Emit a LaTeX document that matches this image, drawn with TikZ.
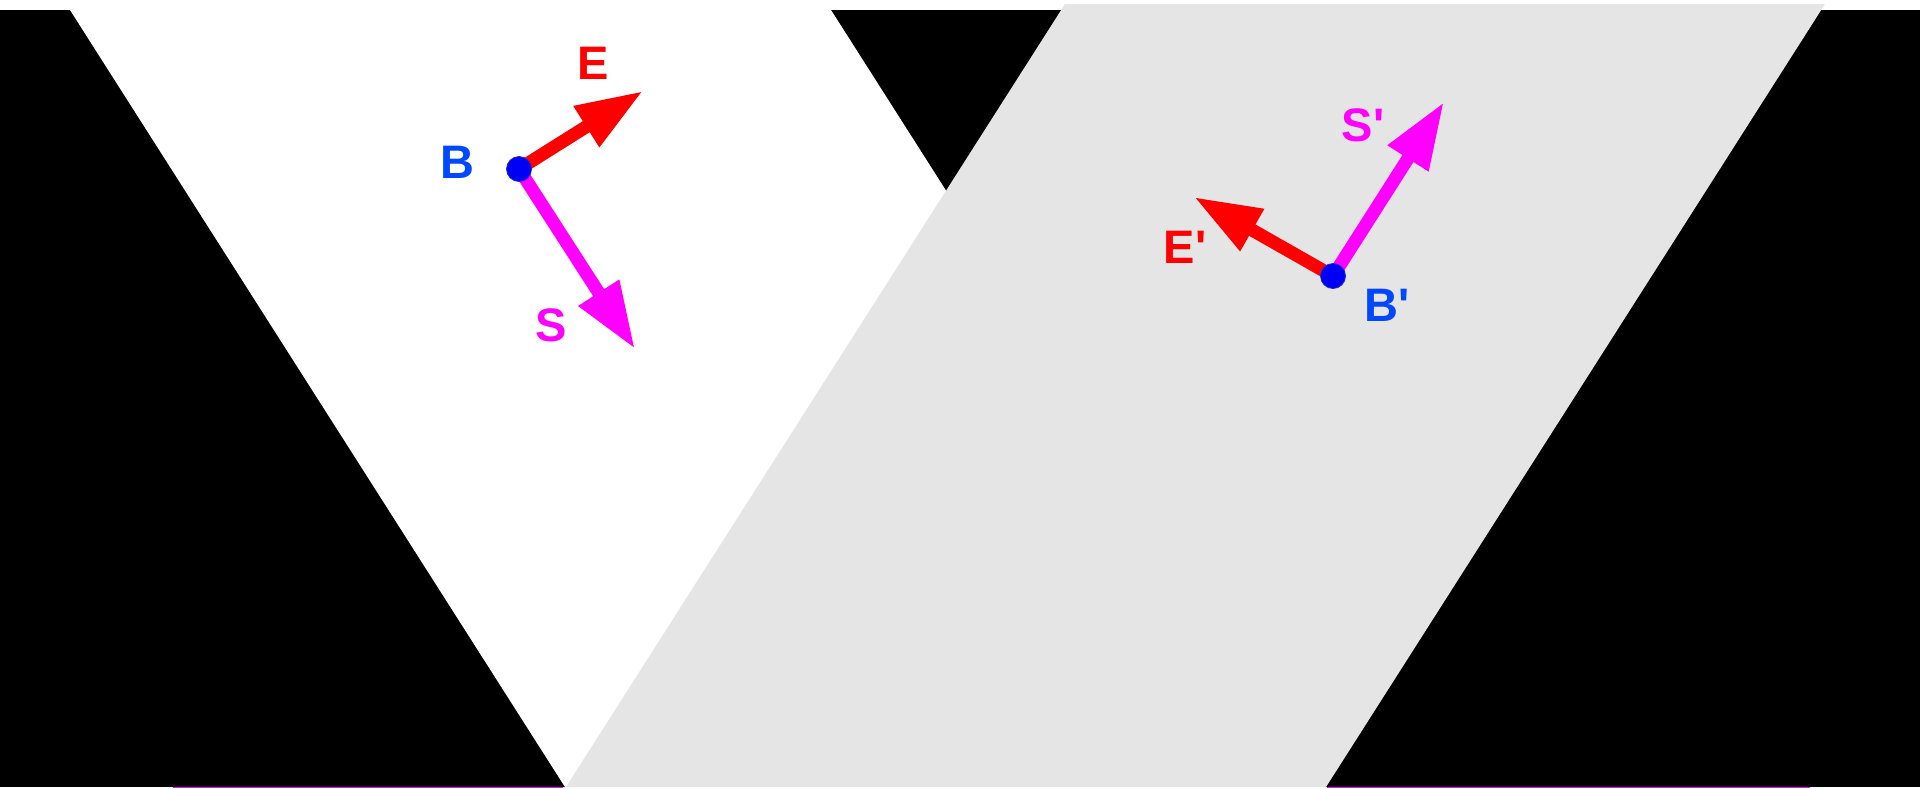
\documentclass[tikz,border=0pt]{standalone}
\usepackage{fontspec}
\setmainfont{Liberation Sans}
\usetikzlibrary{arrows.meta}
\definecolor{bggray}{HTML}{E5E5E5}
\definecolor{lblblue}{HTML}{0048FF}
\definecolor{dotblue}{HTML}{0000F5}
\definecolor{vred}{HTML}{FF0000}
\definecolor{vmag}{HTML}{FF00FF}
\newcommand{\prm}{\XeTeXglyph\XeTeXcharglyph"27\relax}
\tikzset{
  vec/.style={line width=13pt, -{Triangle[length=67pt,width=45pt]}},
  evec/.style={vec, draw=vred, fill=vred},
  svec/.style={vec, draw=vmag, fill=vmag},
  dot/.style={circle, fill=dotblue, draw=dotblue!70!gray, line width=0.8pt, minimum size=25pt, inner sep=0pt},
  lbl/.style={font=\fontsize{47}{56}\selectfont\bfseries, inner sep=0pt}
}
\begin{document}
\begin{tikzpicture}[x=1pt,y=-1pt]
\useasboundingbox (0,0) rectangle (1920,788);
\fill[white] (0,0) rectangle (1920,788);
% black background band
\fill[black] (0,10) rectangle (1920,787);
% white parallelogram (leaning right)
\fill[white] (70,10) -- (831,10) -- (1326,787) -- (565,787) -- cycle;
% gray parallelogram (leaning left)
\fill[bggray] (1065,4) -- (1825,4) -- (1326,787) -- (566,787) -- cycle;
% thin magenta lines at bottom edge
\draw[vmag, line width=1pt] (173,787.5) -- (563,787.5);
\draw[vmag, line width=1pt] (1327,787.5) -- (1810,787.5);

% left frame
\coordinate (Etip) at (643,91);
\coordinate (Stip) at (635,349);
\coordinate (Bc) at (519,169);
\draw[evec] (Bc) -- (Etip);
\draw[svec] (Bc) -- (Stip);
\node[dot] (B) at (Bc) {};
\node[lbl, text=lblblue] (Bl) at (457,162) {B};
\node[lbl, text=vred] (El) at (593,63) {E};
\node[lbl, text=vmag] (Sl) at (551,325) {S};

% right frame
\coordinate (Eptip) at (1194,197);
\coordinate (Sptip) at (1444,102);
\coordinate (Bpc) at (1333,276);
\draw[evec] (Bpc) -- (Eptip);
\draw[svec] (Bpc) -- (Sptip);
\node[dot] (Bp) at (Bpc) {};
\node[lbl, text=lblblue] (Bpl) at (1387,305) {B\prm};
\node[lbl, text=vred] (Epl) at (1185,247) {E\prm};
\node[lbl, text=vmag] (Spl) at (1363,125) {S\prm};
\end{tikzpicture}
\end{document}
